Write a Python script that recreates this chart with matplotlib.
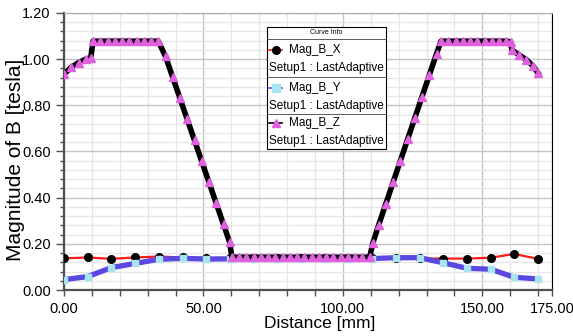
import matplotlib
matplotlib.use('Agg')
import matplotlib.pyplot as plt
from matplotlib.lines import Line2D
from matplotlib.patches import Rectangle
from matplotlib.ticker import MultipleLocator, FixedLocator, FormatStrFormatter

# ---------------- data ----------------
dist_xy = [0, 8.5, 17, 25.5, 34, 42.5, 51, 59.5, 68, 76.5, 85, 93.5, 102,
           110.5, 119, 127.5, 136, 144.5, 153, 161.5, 170]
mag_b_x = [0.137, 0.141, 0.135, 0.141, 0.145, 0.141, 0.139, 0.138, 0.137, 0.137, 0.137,
           0.137, 0.137, 0.138, 0.138, 0.137, 0.136, 0.136, 0.140, 0.156, 0.135]
mag_b_y = [0.045, 0.058, 0.097, 0.115, 0.133, 0.137, 0.134, 0.135, 0.135, 0.135, 0.135,
           0.135, 0.135, 0.136, 0.140, 0.140, 0.118, 0.094, 0.090, 0.055, 0.048]

dist_z = [0, 2.6, 5.2, 7.8, 9.6, 10.4, 13, 15.6, 18.2, 20.8, 23.4, 26, 28.6, 31.2, 33.8,
          36.4, 39, 41.6, 44.2, 46.8, 49.4, 52, 54.6, 57.2, 59.4, 60.2,
          62.8, 65.4, 68, 70.6, 73.2, 75.8, 78.4, 81, 83.6, 86.2, 88.8, 91.4, 94, 96.6,
          99.2, 101.8, 104.4, 107, 109.6, 110.8,
          112.8, 115.4, 118, 120.6, 123.2, 125.8, 128.4, 131, 133.6, 135.2,
          137.8, 140.4, 143, 145.6, 148.2, 150.8, 153.4, 156, 158.6, 160.2,
          160.6, 163.2, 165.8, 168.2, 170]
mag_b_z = [0.935, 0.965, 0.985, 1.000, 1.005, 1.078, 1.078, 1.078, 1.078, 1.078, 1.078,
           1.078, 1.078, 1.078, 1.078,
           1.012, 0.921, 0.830, 0.739, 0.648, 0.557, 0.466, 0.375, 0.284, 0.207, 0.142,
           0.142, 0.142, 0.142, 0.142, 0.142, 0.142, 0.142, 0.142, 0.142, 0.142, 0.142,
           0.142, 0.142, 0.142, 0.142, 0.142, 0.142, 0.142, 0.142, 0.205,
           0.280, 0.373, 0.466, 0.559, 0.652, 0.745, 0.838, 0.931, 1.024, 1.078,
           1.078, 1.078, 1.078, 1.078, 1.078, 1.078, 1.078, 1.078, 1.078, 1.075,
           1.040, 1.018, 0.998, 0.970, 0.940]

x_major_ticks = [0, 50, 100, 150, 175]
series_names = ['Mag_B_X', 'Mag_B_Y', 'Mag_B_Z']
setup_label = 'Setup1 : LastAdaptive'

# ---------------- figure ----------------
plt.rcParams['font.family'] = ['Liberation Sans', 'DejaVu Sans']

W, H = 573, 336
fig = plt.figure(figsize=(W / 100, H / 100), dpi=100)
ax = fig.add_axes([64 / W, 1 - 290 / H, 488 / W, 277 / H])

c_x, c_y, c_z = '#ff1a1a', '#5a48e0', 'black'
mk_x, mk_y, mk_z = 'black', '#a8e4f0', '#e060e0'

ax.plot(dist_xy, mag_b_x, color=c_x, lw=1.6, marker='o', ms=5.5,
        mfc=mk_x, mec=mk_x, zorder=3)
ax.plot(dist_xy, mag_b_y, color=c_y, lw=3.8, marker='s', ms=4,
        mfc=mk_y, mec=mk_y, zorder=4)
ax.plot(dist_z, mag_b_z, color=c_z, lw=4, marker='^', ms=6,
        mfc=mk_z, mec=mk_z, zorder=5)

ax.set_xlim(0, 175)
ax.set_ylim(0, 1.2)
ax.xaxis.set_major_locator(FixedLocator(x_major_ticks))
ax.xaxis.set_minor_locator(MultipleLocator(10))
ax.yaxis.set_major_locator(MultipleLocator(0.2))
ax.yaxis.set_minor_locator(MultipleLocator(0.04))
ax.xaxis.set_major_formatter(FormatStrFormatter('%.2f'))
ax.yaxis.set_major_formatter(FormatStrFormatter('%.2f'))

ax.set_axisbelow(True)
ax.grid(True, which='major', color='#c4c4c4', lw=1.0)
ax.grid(True, which='minor', color='#e6e6e6', lw=0.9)

for s in ['left', 'bottom']:
    ax.spines[s].set_color('#505050')
    ax.spines[s].set_linewidth(1.6)
ax.spines['top'].set_color('#a8a8a8')
ax.spines['top'].set_linewidth(0.8)
ax.spines['right'].set_color('black')
ax.spines['right'].set_linewidth(0.8)

ax.tick_params(axis='y', which='major', length=6, width=1, color='#505050',
               labelsize=10.5, pad=3.5)
ax.tick_params(axis='y', which='minor', length=3, width=1, color='#505050')
ax.tick_params(axis='x', which='both', length=4, width=1, color='#505050',
               labelsize=10.5, pad=4.5)

ax.set_xlabel('Distance [mm]', fontsize=12.5)
ax.xaxis.set_label_coords((320 - 64) / 488, -0.093)
ax.set_ylabel('Magnitude of B [tesla]', fontsize=15)
ax.yaxis.set_label_coords((25 - 64) / 488, 0.47)

# ---------------- legend box (Curve Info) ----------------
def fx(x):
    return x / W

def fy(y):
    return 1 - y / H

bx0, bx1, by0, by1 = 267, 386, 27, 149
fig.add_artist(Rectangle((fx(bx0), fy(by1)), (bx1 - bx0) / W, (by1 - by0) / H,
                         transform=fig.transFigure, fc='white', ec='black',
                         lw=0.8, zorder=10))
for sy in [39, 77, 114]:
    fig.add_artist(Line2D([fx(bx0), fx(bx1)], [fy(sy), fy(sy)],
                          transform=fig.transFigure, color='#404040',
                          lw=0.6, zorder=11))
fig.text(fx((bx0 + bx1) / 2), fy(33), 'Curve Info', fontsize=5,
         ha='center', va='center', zorder=12)

entries = [(series_names[0], c_x, 'o', mk_x, 50),
           (series_names[1], c_y, 's', mk_y, 88),
           (series_names[2], c_z, '^', mk_z, 123)]
for name, lc, mk, mc, yy in entries:
    fig.add_artist(Line2D([fx(269), fx(282)], [fy(yy), fy(yy)],
                          transform=fig.transFigure, color=lc, lw=1.2,
                          zorder=12))
    fig.add_artist(Line2D([fx(275.5)], [fy(yy)], transform=fig.transFigure,
                          marker=mk, ms=5.5, mfc=mc, mec=mc, ls='none',
                          zorder=13))
    fig.text(fx(289), fy(yy), name, fontsize=8.5, ha='left', va='center',
             zorder=12)
    fig.text(fx(269), fy(yy + 18), setup_label, fontsize=8.5, ha='left',
             va='center', zorder=12)

fig.savefig('out.png', dpi=100)
